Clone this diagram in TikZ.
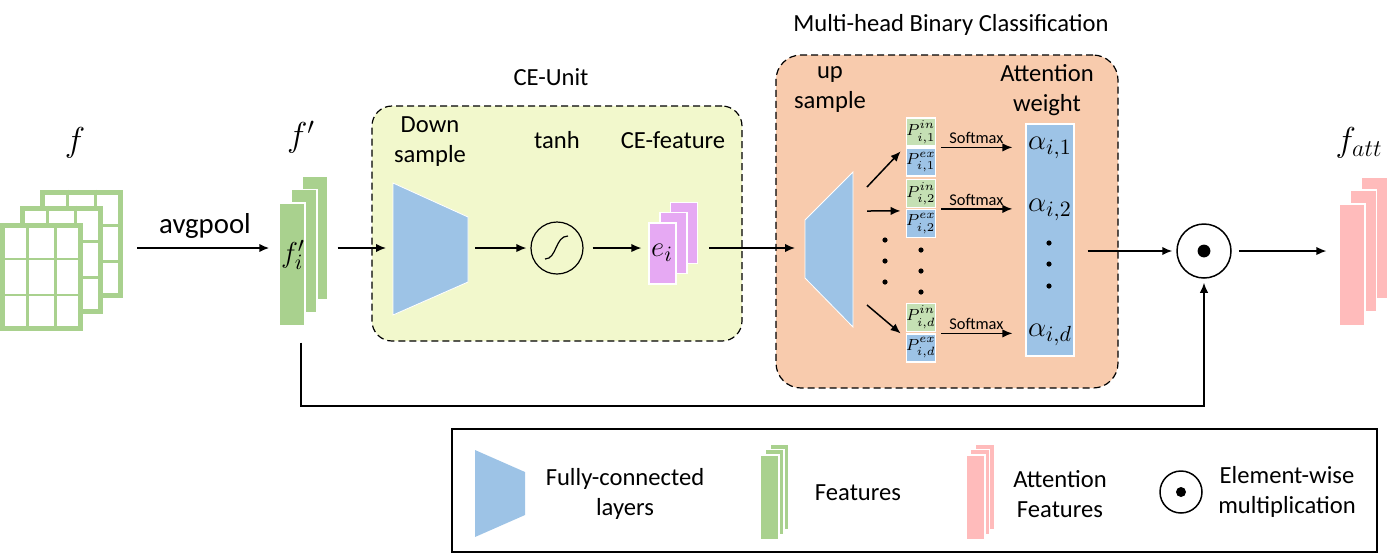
\documentclass[tikz,border=0pt]{standalone}
\usepackage{fontspec}
\setmainfont{Carlito}
\usetikzlibrary{arrows.meta,calc}
\definecolor{gfeat}{HTML}{A9D18E}
\definecolor{fcblue}{HTML}{9DC3E6}
\definecolor{ceyellow}{HTML}{F2F8CC}
\definecolor{mhorange}{HTML}{F8CBAD}
\definecolor{evio}{HTML}{E6A9F3}
\definecolor{pingreen}{HTML}{C5E0B4}
\definecolor{attpink}{HTML}{FFBBBB}
\newcommand\mygrid[3]{%
  \node[gridbox] (#1) at (#2,#3) {};
  \foreach \t in {0.3333,0.6667} {%
    \draw[gridline] ($(#1.north west)!\t!(#1.north east)$) -- ($(#1.south west)!\t!(#1.south east)$);
    \draw[gridline] ($(#1.north west)!\t!(#1.south west)$) -- ($(#1.north east)!\t!(#1.south east)$);
  }}
\newcommand\plab[2]{$P^{\raisebox{0.7pt}{$\scriptstyle #1$}}_{\raisebox{-0.7pt}{$\scriptstyle #2$}}$}
\begin{document}
\begin{tikzpicture}[x=0.5pt,y=-0.5pt,
  txt/.style={font=\fontsize{12.3}{15}\selectfont, align=center, inner sep=0pt},
  smtxt/.style={font=\fontsize{8.2}{10}\selectfont, inner sep=1.5pt},
  mth/.style={font=\fontsize{15.5}{17}\selectfont, inner sep=0pt},
  bigmth/.style={font=\fontsize{17}{19}\selectfont, inner sep=0pt},
  arr/.style={line width=0.75pt, -{Latex[length=5pt,width=4.2pt]}},
  bar/.style={draw=white, line width=0.6pt, inner sep=0pt},
  fbar/.style={bar, fill=gfeat, minimum width=13pt, minimum height=61.5pt},
  ebar/.style={bar, fill=evio, minimum width=13.5pt, minimum height=30.5pt},
  abar/.style={bar, fill=attpink, minimum width=13pt, minimum height=61pt},
  lgbar/.style={bar, fill=gfeat, minimum width=9.5pt, minimum height=42.5pt},
  lpbar/.style={bar, fill=attpink, minimum width=9.5pt, minimum height=42.5pt},
  pbox/.style={draw=white, line width=0.6pt, minimum size=14pt, inner sep=0pt, font=\fontsize{8.4}{9}\selectfont},
  gridbox/.style={draw=gfeat, line width=2.5pt, fill=white, minimum width=39pt, minimum height=51.5pt, inner sep=0pt},
  gridline/.style={draw=gfeat, line width=1.25pt},
  groupbox/.style={draw, dashed, dash pattern=on 3.5pt off 2pt, line width=0.6pt, inner sep=0pt},
  dotf/.style={fill=black}
]
\useasboundingbox (0,0) rectangle (1389,554);
\coordinate (row) at (0,248);
\coordinate (skiprow) at (0,406);

% ---- input feature maps
\mygrid{g3}{81.5}{243.5}
\mygrid{g2}{61.5}{259.5}
\mygrid{g1}{41.5}{277}
\node[bigmth] (lf) at (75,143) {$f$};
\node[txt, font=\fontsize{14.4}{16}\selectfont] (lavg) at (205,226) {avgpool};

% ---- f' bars
\node[fbar] (fp3) at (315,238) {};
\node[fbar] (fp2) at (304,251) {};
\node[fbar] (fp1) at (292,264.5) {};
\node[bigmth] (lfp) at (301,137) {$f'$};
\node[mth] (lfi) at (293,255) {$f_i'$};

% ---- CE unit box
\node[groupbox, fill=ceyellow, rounded corners=10pt, minimum width=185pt, minimum height=117.5pt] (ce) at (557,223.5) {};
\node[txt] (lce) at (551,77) {CE-Unit};
\fill[fcblue, draw=white, line width=0.4pt] (393,183) -- (468,217) -- (468,282) -- (393,315) -- cycle;
\coordinate (dsin) at (393,248);
\coordinate (dsout) at (468,248);
\node[txt] (ldown) at (430,142) {Down\\sample};
\node[circle, draw, line width=0.6pt, minimum size=26pt, inner sep=0pt] (tanh) at (557,248) {};
\draw[line width=0.6pt] (545,259) .. controls (557,259) and (555,236) .. (568,236);
\node[txt] (ltanh) at (557,140) {tanh};
\node[ebar] (e3) at (684,233) {};
\node[ebar] (e2) at (673.5,243) {};
\node[ebar] (e1) at (662.5,253.5) {};
\node[mth] (lei) at (662,253) {$e_i$};
\node[txt] (lcef) at (673,140) {CE-feature};

% ---- multi-head box
\node[groupbox, fill=mhorange, rounded corners=12.5pt, minimum width=171pt, minimum height=166.5pt] (mh) at (947,221.5) {};
\node[txt] (lmh) at (951,25) {Multi-head Binary Classification};
\node[txt] (lup) at (830,89) {up\\sample};
\node[txt] (latw) at (1047,90) {Attention\\weight};
\fill[fcblue, draw=white, line width=0.4pt] (805,220) -- (853,172) -- (853,327) -- (805,278) -- cycle;
\coordinate (usin) at (805,248);
\coordinate (u1) at (867,187);
\coordinate (u2) at (867,211);
\coordinate (u3) at (867,305);
\node[pbox, fill=pingreen] (pin1) at (921,132) {\plab{in}{i,1}};
\node[pbox, fill=fcblue] (pex1) at (921,162) {\plab{ex}{i,1}};
\node[pbox, fill=pingreen] (pin2) at (921,193.5) {\plab{in}{i,2}};
\node[pbox, fill=fcblue] (pex2) at (921,223.5) {\plab{ex}{i,2}};
\node[pbox, fill=pingreen] (pind) at (921,317.5) {\plab{in}{i,d}};
\node[pbox, fill=fcblue] (pexd) at (921,348) {\plab{ex}{i,d}};
\foreach \yy in {240,261,282} \fill[dotf] (885,\yy) circle (1.3pt);
\foreach \yy in {250,271,292} \fill[dotf] (921,\yy) circle (1.3pt);
\node[bar, fill=fcblue, minimum width=24pt, minimum height=116pt] (att) at (1050,240) {};
\node[mth] (a1) at (1050,148) {$\alpha_{i,1}$};
\node[mth] (a2) at (1050,210) {$\alpha_{i,2}$};
\node[mth] (ad) at (1050,335) {$\alpha_{i,d}$};
\foreach \yy in {243,264,286} \fill[dotf] (1049,\yy) circle (1.3pt);

% ---- multiplication and output
\node[circle, draw, line width=0.75pt, minimum size=27pt, inner sep=0pt] (mult) at (1204,251) {};
\fill (mult.center) circle (3.2pt);
\node[abar] (fa3) at (1374.5,238) {};
\node[abar] (fa2) at (1363.5,251) {};
\node[abar] (fa1) at (1352,265) {};
\node[bigmth] (lfatt) at (1359,143) {$f_{att}$};

% ---- connectors
\draw[arr, line width=1pt, shorten <=7pt, shorten >=4.5pt] (g3.east |- row) -- (fp1.west |- row);
\draw[arr, shorten <=4.5pt, shorten >=3.5pt] (fp3.east |- row) -- (dsin);
\draw[arr, shorten <=3.5pt, shorten >=2pt] (dsout) -- (tanh.west);
\draw[arr, shorten <=4.5pt, shorten >=3.5pt] (tanh.east) -- (e1.west |- tanh.east);
\draw[arr, shorten <=5.5pt, shorten >=5pt] (e3.east |- row) -- (usin);
\draw[arr] (u1) -- ([xshift=-2.5pt,yshift=-2pt]pex1.north west);
\draw[arr] (u2) -- ([xshift=-2.5pt,yshift=-1pt]pex2.north west);
\draw[arr] (u3) -- ([xshift=-2.5pt]pexd.north west);
\draw[arr, shorten <=2.5pt, shorten >=6.5pt] (pex1.north east) -- node[smtxt, above, pos=0.45] {Softmax} (att.west |- pex1.north east);
\draw[arr, shorten <=2.5pt, shorten >=6.5pt] (pex2.north east) -- node[smtxt, above, pos=0.45] {Softmax} (att.west |- pex2.north east);
\draw[arr, shorten <=2.5pt, shorten >=6.5pt] (pexd.north east) -- node[smtxt, above, pos=0.45] {Softmax} (att.west |- pexd.north east);
\draw[arr, shorten <=6.5pt, shorten >=2pt] (att.east |- mult.west) -- (mult.west);
\draw[arr, shorten <=3.5pt, shorten >=6pt] (mult.east) -- (fa1.west |- mult.east);
\draw[arr, shorten >=2pt] ([xshift=4.5pt,yshift=-8pt]fp1.south) -- ([xshift=4.5pt]fp1.south |- skiprow) -| (mult.south);

% ---- legend
\node[draw, line width=0.75pt, minimum width=462.5pt, minimum height=61.5pt, inner sep=0pt] (legend) at (914.5,490.5) {};
\fill[fcblue] (475,450) -- (525,472) -- (525,515) -- (475,537) -- cycle;
\node[txt] (lfc) at (625,494) {Fully-connected\\layers};
\node[lgbar] (lg3) at (779.5,487) {};
\node[lgbar] (lg2) at (774.5,492) {};
\node[lgbar] (lg1) at (769.5,497.5) {};
\node[txt] (lfeat) at (858,493) {Features};
\node[lpbar] (lp3) at (985,487) {};
\node[lpbar] (lp2) at (980,492) {};
\node[lpbar] (lp1) at (975.5,497.5) {};
\node[txt] (lattf) at (1060,494) {Attention\\Features};
\node[circle, draw, line width=0.75pt, minimum size=21pt, inner sep=0pt] (lmult) at (1181,492) {};
\fill (lmult.center) circle (2.5pt);
\node[txt] (lew) at (1287,492) {Element-wise\\multiplication};
\end{tikzpicture}
\end{document}
